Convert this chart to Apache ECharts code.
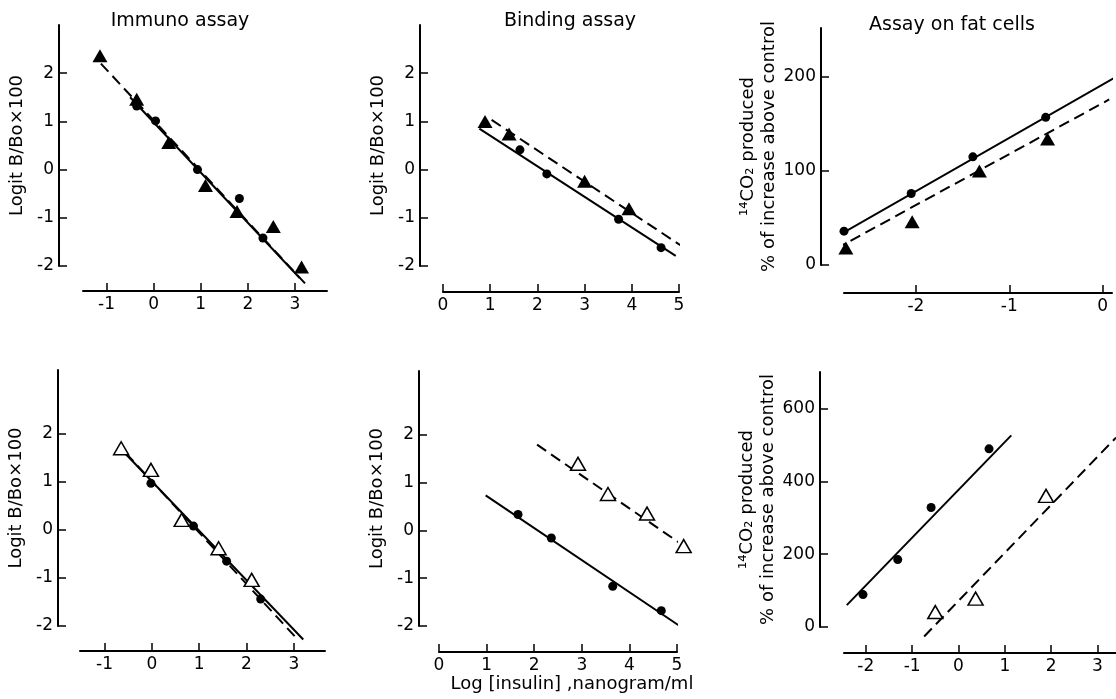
<!DOCTYPE html>
<html lang="en">
<head>
<meta charset="UTF-8">
<title>Insulin assays</title>
<style>
    html, body { margin: 0; background: #fff; }
    #main { width: 1116px; height: 699px; }
</style>
</head>
<body>
<div id="main"></div>
<script src="https://cdn.jsdelivr.net/npm/echarts@6/dist/echarts.min.js"></script>
<script>
    // [log dose, response]
    // top row: filled triangles + dots
    var immunoTriTop = [[-1.14, 2.36], [-0.36, 1.46], [0.32, 0.56], [1.1, -0.33], [1.77, -0.87], [2.54, -1.18], [3.14, -2.02]];
    var immunoDotTop = [[-0.36, 1.32], [0.04, 1.01], [0.93, 0.0], [1.82, -0.6], [2.32, -1.42]];
    var immunoSolidTop = [[-0.5, 1.5], [3.1, -2.25]];
    var immunoDashTop = [[-1.12, 2.2], [3.26, -2.41]];

    var bindTriTop = [[0.89, 1.0], [1.4, 0.74], [3.0, -0.24], [3.94, -0.81]];
    var bindDotTop = [[1.63, 0.41], [2.2, -0.09], [3.72, -1.03], [4.62, -1.62]];
    var bindSolidTop = [[0.77, 0.85], [4.93, -1.79]];
    var bindDashTop = [[1.03, 1.03], [5.03, -1.57]];

    var fatTriTop = [[-2.75, 18], [-2.04, 46], [-1.32, 100], [-0.59, 134]];
    var fatDotTop = [[-2.77, 36], [-2.05, 76], [-1.39, 115], [-0.61, 157]];
    var fatSolidTop = [[-2.89, 28], [0.125, 199]];
    var fatDashTop = [[-2.86, 17], [0.07, 176]];

    // bottom row: open triangles + dots
    var immunoTriBot = [[-0.65, 1.7], [-0.02, 1.25], [0.63, 0.21], [1.41, -0.38], [2.11, -1.04]];
    var immunoDotBot = [[-0.02, 0.97], [0.88, 0.08], [1.58, -0.65], [2.3, -1.44]];
    var immunoSolidBot = [[-0.62, 1.65], [3.2, -2.28]];
    var immunoDashBot = [[-0.55, 1.6], [3.1, -2.3]];

    var bindTriBot = [[2.92, 1.39], [3.55, 0.76], [4.37, 0.35], [5.14, -0.33]];
    var bindDotBot = [[1.66, 0.33], [2.36, -0.16], [3.65, -1.17], [4.67, -1.68]];
    var bindSolidBot = [[0.98, 0.73], [5.07, -2.01]];
    var bindDashBot = [[2.06, 1.79], [5.28, -0.42]];

    var fatTriBot = [[-0.5, 41], [0.37, 78], [1.89, 360]];
    var fatDotBot = [[-2.06, 89], [-1.31, 185], [-0.59, 328], [0.66, 489]];
    var fatSolidBot = [[-2.41, 60], [1.14, 526]];
    var fatDashBot = [[-0.74, -26], [3.4, 520]];

    // tick labels
    var logitTicks = [-2, -1, 0, 1, 2];
    var immunoXTicks = [-1, 0, 1, 2, 3];
    var bindXTicks = [0, 1, 2, 3, 4, 5];
    var fatXTicksTop = [-2, -1, 0];
    var fatYTicksTop = [0, 100, 200];
    var fatXTicksBot = [-2, -1, 0, 1, 2, 3];
    var fatYTicksBot = [0, 200, 400, 600];

    var titles = ['Immuno assay', 'Binding assay', 'Assay on fat cells'];
    var logitName = 'Logit B/Bo\u00d7100';
    var co2Name = '\u00b9\u2074CO\u2082 produced\n% of increase above control';
    var doseName = 'Log [insulin] ,nanogram/ml';

    var FONT = 'DejaVu Sans';

    // grid rects of the six panels
    var grids = [
        { left: 83, top: 25, width: 244, height: 241 },
        { left: 443, top: 25, width: 236, height: 241 },
        { left: 844, top: 28, width: 268, height: 237 },
        { left: 80, top: 370, width: 245, height: 256 },
        { left: 439, top: 371, width: 238, height: 255 },
        { left: 844, top: 372, width: 275, height: 255 }
    ];

    function xAxis(i, min, max, ticks, offset, name) {
        return {
            type: 'value', gridIndex: i, min: min, max: max, offset: offset,
            splitLine: { show: false },
            axisLine: { onZero: false, lineStyle: { color: '#000', width: 2 } },
            axisTick: { inside: true, length: 8, customValues: ticks, lineStyle: { color: '#000', width: 1.5 } },
            axisLabel: { customValues: ticks, color: '#000', fontFamily: FONT, fontSize: 17, margin: 5 },
            name: name || '', nameLocation: 'middle', nameGap: 21,
            nameTextStyle: { color: '#000', fontFamily: FONT, fontSize: 18, padding: [0, 0, 0, 28] }
        };
    }

    function yAxis(i, min, max, ticks, offset, name, gap) {
        return {
            type: 'value', gridIndex: i, min: min, max: max, offset: offset,
            splitLine: { show: false },
            axisLine: { onZero: false, lineStyle: { color: '#000', width: 2 } },
            axisTick: { inside: true, length: 8, customValues: ticks, lineStyle: { color: '#000', width: 1.5 } },
            axisLabel: { customValues: ticks, color: '#000', fontFamily: FONT, fontSize: 17, margin: 5 },
            name: name, nameLocation: 'middle', nameGap: gap,
            nameTextStyle: { color: '#000', fontFamily: FONT, fontSize: 18, lineHeight: 21 }
        };
    }

    function line(i, data, dashed) {
        return {
            type: 'line', xAxisIndex: i, yAxisIndex: i, data: data,
            symbol: 'none', clip: false, silent: true, z: 2,
            lineStyle: { color: '#000', width: 2, type: dashed ? [11, 6] : 'solid' }
        };
    }

    function tri(i, data, open) {
        return {
            type: 'scatter', xAxisIndex: i, yAxisIndex: i, data: data,
            symbol: 'triangle', symbolSize: [15, 13], clip: false, z: 3,
            itemStyle: open ? { color: '#fff', borderColor: '#000', borderWidth: 1.5, opacity: 1 }
                            : { color: '#000', opacity: 1 }
        };
    }

    function dot(i, data) {
        return {
            type: 'scatter', xAxisIndex: i, yAxisIndex: i, data: data,
            symbol: 'circle', symbolSize: 9, clip: false, z: 4,
            itemStyle: { color: '#000', opacity: 1 }
        };
    }

    var titleFont = '19px "DejaVu Sans"';
    var myChart = echarts.init(document.getElementById('main'));
    myChart.setOption({
        backgroundColor: '#fff',
        animation: false,
        graphic: [
            { type: 'text', x: 180, y: 12, style: { text: titles[0], fill: '#000', font: titleFont, textAlign: 'center' } },
            { type: 'text', x: 570, y: 12, style: { text: titles[1], fill: '#000', font: titleFont, textAlign: 'center' } },
            { type: 'text', x: 952, y: 16, style: { text: titles[2], fill: '#000', font: titleFont, textAlign: 'center' } }
        ],
        grid: grids,
        xAxis: [
            xAxis(0, -1.5, 3.68, immunoXTicks, 25),
            xAxis(1, 0, 5, bindXTicks, 26),
            xAxis(2, -2.77, 0.1, fatXTicksTop, 28),
            xAxis(3, -1.52, 3.66, immunoXTicks, 25),
            xAxis(4, 0, 5, bindXTicks, 26, doseName),
            xAxis(5, -2.47, 3.4, fatXTicksBot, 26)
        ],
        yAxis: [
            yAxis(0, -2, 3, logitTicks, 24, logitName, 31),
            yAxis(1, -2, 3, logitTicks, 23, logitName, 31),
            yAxis(2, 0, 252, fatYTicksTop, 23, co2Name, 33),
            yAxis(3, -2, 3.33, logitTicks, 22, logitName, 31),
            yAxis(4, -2, 3.33, logitTicks, 20, logitName, 31),
            yAxis(5, 0, 700, fatYTicksBot, 24, co2Name, 33)
        ],
        series: [
            line(0, immunoSolidTop, false), line(0, immunoDashTop, true),
            tri(0, immunoTriTop, false), dot(0, immunoDotTop),
            line(1, bindSolidTop, false), line(1, bindDashTop, true),
            tri(1, bindTriTop, false), dot(1, bindDotTop),
            line(2, fatSolidTop, false), line(2, fatDashTop, true),
            tri(2, fatTriTop, false), dot(2, fatDotTop),
            line(3, immunoSolidBot, false), line(3, immunoDashBot, true),
            tri(3, immunoTriBot, true), dot(3, immunoDotBot),
            line(4, bindSolidBot, false), line(4, bindDashBot, true),
            tri(4, bindTriBot, true), dot(4, bindDotBot),
            line(5, fatSolidBot, false), line(5, fatDashBot, true),
            tri(5, fatTriBot, true), dot(5, fatDotBot)
        ]
    });
</script>
</body>
</html>
